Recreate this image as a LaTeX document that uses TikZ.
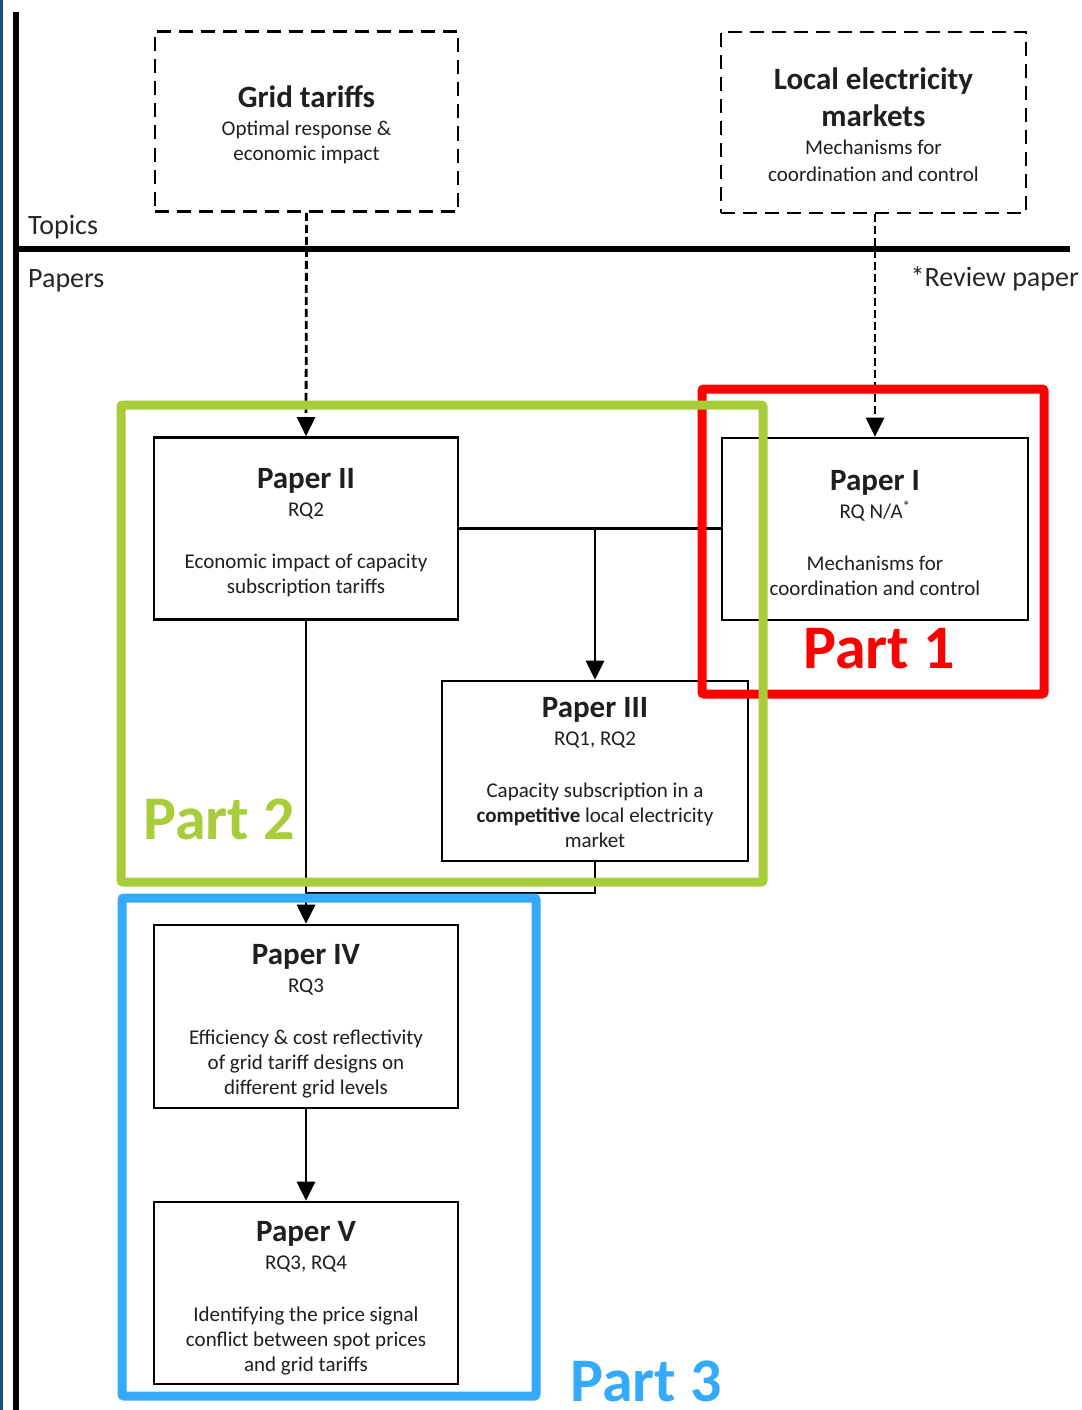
\documentclass[tikz,border=0pt]{standalone}
\usepackage{fontspec}
\setmainfont{Carlito}
\usetikzlibrary{arrows.meta}
\definecolor{pgreen}{RGB}{168,204,58}
\definecolor{pred}{RGB}{255,0,0}
\definecolor{pblue}{RGB}{52,170,250}
\definecolor{edgeblue}{RGB}{31,78,121}
\newcommand{\tfont}{\fontsize{31}{36}\selectfont\bfseries}
\begin{document}
\begin{tikzpicture}[x=1pt,y=-1pt,
  paperbox/.style={draw,line width=2.6pt,minimum width=304pt,minimum height=182pt,inner sep=0pt},
  topicbox/.style={draw,line width=2.8pt,dash pattern=on 14pt off 8pt,
    minimum width=303pt,minimum height=180pt,inner sep=0pt},
  boxtext/.style={align=center,inner sep=0pt,font=\fontsize{21}{25}\selectfont,text=black!88},
  conn/.style={line width=2.8pt},
  arr/.style={conn,-{Triangle[length=19pt,width=18pt]}},
  dconn/.style={arr,dash pattern=on 8pt off 4pt},
  partbox/.style={line width=9pt,rounded corners=2pt},
  partlbl/.style={anchor=base west,inner sep=0pt,font=\fontsize{62}{70}\selectfont\bfseries},
  axislbl/.style={anchor=west,inner sep=0pt,font=\fontsize{28}{32}\selectfont,text=black!85}]
\useasboundingbox (0,0) rectangle (1081,1410);
\fill[white] (0,0) rectangle (1081,1410);
\fill[edgeblue] (0,0) rectangle (2.5,1410);
% axes
\draw[line width=6pt] (15.5,12) -- (15.5,1410);
\draw[line width=6pt] (12.5,249) -- (1070,249);
\node[axislbl] (topics) at (28,227) {Topics};
\node[axislbl] (papers) at (28,281) {Papers};
\node[axislbl,anchor=east] (review) at (1079,279) {*Review paper};
% topic boxes
\node[topicbox] (grid) at (306.5,121.5) {};
\node[boxtext] (gridt) at ([yshift=-3.5pt]grid.center) {{\tfont Grid tariffs}\\[3pt]Optimal response \&\\economic impact};
\node[topicbox,minimum width=305pt,minimum height=181pt] (lem) at (873.5,122.5) {};
\node[boxtext] (lemt) at ([yshift=-2pt]lem.center)
  {{\tfont Local electricity}\\[9pt]{\tfont markets}\\[3pt]Mechanisms for\\[2pt]coordination and control};
% paper boxes
\node[paperbox] (p2) at (306,528.5) {};
\node[boxtext] (p2t) at ([yshift=-4.5pt]p2.center) {{\tfont Paper II}\\[3pt]RQ2\\[27pt]Economic impact of capacity\\subscription tariffs};
\node[paperbox,minimum width=306pt] (p1) at (875,529) {};
\node[boxtext] (p1t) at ([yshift=-4.5pt]p1.center) {{\tfont Paper I}\\[3pt]RQ N/A\textsuperscript{*}\\[27pt]Mechanisms for\\coordination and control};
\node[paperbox,minimum width=306pt,minimum height=180pt] (p3) at (595,771) {};
\node[boxtext] (p3t) at ([yshift=-1.5pt]p3.center) {{\tfont Paper III}\\[3pt]RQ1, RQ2\\[27pt]Capacity subscription in a\\\textbf{competitive} local electricity\\market};
\node[paperbox,minimum height=183pt] (p4) at (306,1016.5) {};
\node[boxtext] (p4t) at ([yshift=-4.5pt]p4.center) {{\tfont Paper IV}\\[3pt]RQ3\\[27pt]Efficiency \& cost reflectivity\\of grid tariff designs on\\different grid levels};
\node[paperbox] (p5) at (306,1293) {};
\node[boxtext] (p5t) at ([yshift=-5.5pt]p5.center) {{\tfont Paper V}\\[3pt]RQ3, RQ4\\[27pt]Identifying the price signal\\conflict between spot prices\\and grid tariffs};
% connectors
\draw[dconn] (grid.south) -- (p2.north);
\draw[dconn] (lem.south -| p1.north) -- (p1.north);
\coordinate (j1) at (p3.north |- p2.east);
\draw[conn] (p2.east) -- (p2.east -| p1.west);
\draw[arr] (j1) -- (p3.north);
\draw[arr] (p2.south) -- (p4.north);
\coordinate (j2) at (306,893);
\draw[conn] (p3.south) |- (j2);
\draw[arr] (p4.south) -- (p5.north);
% part frames
\draw[partbox,pred] (702,389) rectangle (1044,694);
\draw[partbox,pgreen] (121,405) rectangle (763,882);
\draw[partbox,pblue] (122,898) rectangle (536,1396);
\node[partlbl,text=pred] (part1) at (803,668) {Part 1};
\node[partlbl,text=pgreen] (part2) at (143,839) {Part 2};
\node[partlbl,text=pblue] (part3) at (570,1401) {Part 3};
\end{tikzpicture}
\end{document}
